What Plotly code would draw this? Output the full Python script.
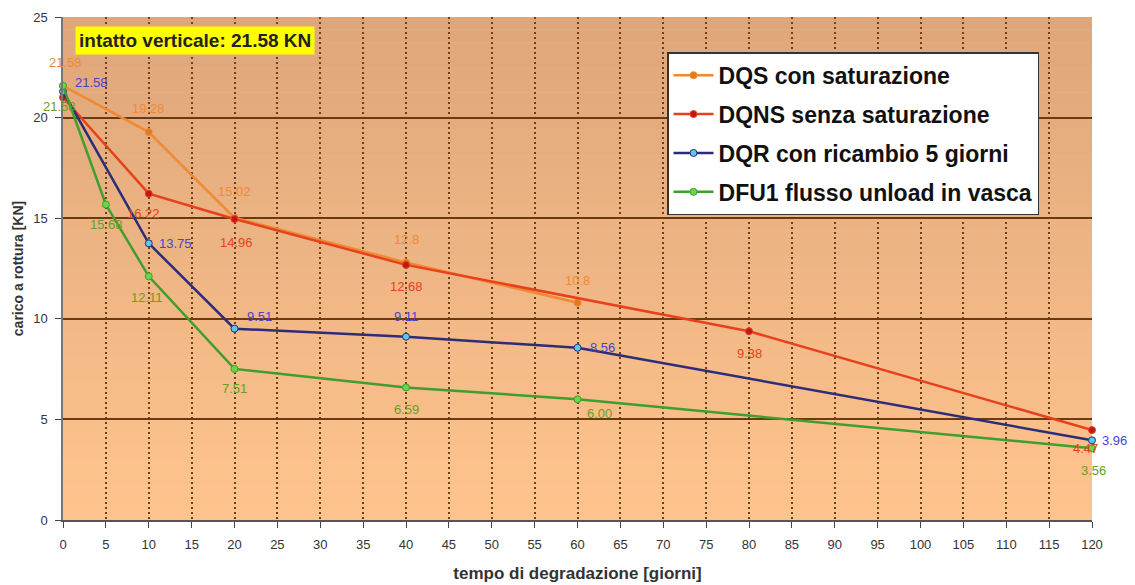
import plotly.graph_objects as go

# ---------------- data ----------------
dqs_x = [0, 10, 20, 40, 60]
dqs_y = [21.58, 19.28, 15.02, 12.8, 10.8]
dqs_lbl = ["21.58", "19.28", "15.02", "12.8", "10.8"]

dqns_x = [0, 10, 20, 40, 80, 120]
dqns_y = [21.0, 16.22, 14.96, 12.68, 9.38, 4.47]
dqns_lbl = ["", "16.22", "14.96", "12.68", "9.38", "4.47"]

dqr_x = [0, 10, 20, 40, 60, 120]
dqr_y = [21.3, 13.75, 9.51, 9.11, 8.56, 3.96]
dqr_lbl = ["21.58", "13.75", "9.51", "9.11", "8.56", "3.96"]

dfu_x = [0, 5, 10, 20, 40, 60, 120]
dfu_y = [21.58, 15.68, 12.11, 7.51, 6.59, 6.00, 3.56]
dfu_lbl = ["21.58", "15.68", "12.11", "7.51", "6.59", "6.00", "3.56"]

names = ["DQS con saturazione", "DQNS senza saturazione",
         "DQR con ricambio 5 giorni", "DFU1 flusso unload in vasca"]
x_ticks = list(range(0, 121, 5))
y_ticks = list(range(0, 26, 5))

# ---------------- styles ----------------
line_cols = ["#F08A32", "#E8401C", "#2C2C78", "#3E9E2E"]
mark_cols = ["#E07A22", "#C01818", "#5AC8E8", "#6CD64A"]
text_cols = ["#F08A32", "#E8401C", "#4444D0", "#6A9E1E"]

# label offsets in pixels (xshift, yshift, xanchor)
dqs_off = [(2, 23, "center"), (0, 24, "center"), (0, 26, "center"),
           (0, 23, "center"), (0, 22, "center")]
dqns_off = [(0, 0, "center"), (-5, -20, "center"), (2, -23, "center"),
            (0, -22, "center"), (0, -22, "center"), (-7, -18, "center")]
dqr_off = [(10, 9, "left"), (8, 0, "left"), (10, 12, "left"),
           (0, 20, "center"), (10, 0, "left"), (8, 0, "left")]
dfu_off = [(-4, -21, "center"), (1, -20, "center"), (-2, -21, "center"),
           (0, -20, "center"), (0, -22, "center"), (22, -14, "center"),
           (1, -22, "center")]

fig = go.Figure()

series = [
    (dqs_x, dqs_y, dqs_lbl, dqs_off),
    (dqns_x, dqns_y, dqns_lbl, dqns_off),
    (dqr_x, dqr_y, dqr_lbl, dqr_off),
    (dfu_x, dfu_y, dfu_lbl, dfu_off),
]

for i, (xs, ys, lb, off) in enumerate(series):
    fig.add_trace(go.Scatter(
        x=xs, y=ys, name=names[i], mode="lines+markers",
        line=dict(color=line_cols[i], width=2.5),
        marker=dict(color=mark_cols[i], size=7,
                    line=dict(color=line_cols[i], width=1)),
        legendgroup=str(i), cliponaxis=False,
    ))

annotations = []
for i, (xs, ys, lb, off) in enumerate(series):
    for xv, yv, t, (dx, dy, xa) in zip(xs, ys, lb, off):
        if not t:
            continue
        annotations.append(dict(
            x=xv, y=yv, xref="x", yref="y", text=t, showarrow=False,
            xshift=dx, yshift=dy, xanchor=xa,
            font=dict(family="Arial", size=13, color=text_cols[i]),
        ))

annotations.append(dict(
    x=0.0117, y=0.982, xref="paper", yref="paper", xanchor="left", yanchor="top",
    text="<b>intatto verticale: 21.58 KN</b>", showarrow=False,
    bgcolor="#FFFF00", borderpad=3,
    font=dict(family="Arial", size=19, color="#222222"),
))

# gradient background bands
shapes = []
n = 40
top = (0xDE, 0xA6, 0x7A)
bot = (0xFF, 0xC4, 0x8E)
for k in range(n):
    t = k / (n - 1)
    c = tuple(int(round(top[j] + (bot[j] - top[j]) * t)) for j in range(3))
    shapes.append(dict(
        type="rect", xref="x domain", yref="y domain",
        x0=0, x1=1, y0=1 - (k + 1) / n, y1=1 - k / n,
        fillcolor="rgb(%d,%d,%d)" % c, line=dict(width=0), layer="below",
    ))

fig.update_layout(
    width=1135, height=585,
    margin=dict(l=63, r=43, t=17, b=65, autoexpand=False),
    paper_bgcolor="white",
    plot_bgcolor="#F4B888",
    font=dict(family="Arial", color="#333333"),
    shapes=shapes,
    annotations=annotations,
    showlegend=True,
    legend=dict(
        x=0.587, y=0.93, xanchor="left", yanchor="top",
        bgcolor="white", bordercolor="#333333", borderwidth=1.5,
        font=dict(family="Arial", size=23, color="#111111", weight="bold"),
        tracegroupgap=6, itemwidth=40,
    ),
    xaxis=dict(
        range=[0, 120], tickvals=x_ticks, ticks="outside", ticklen=6,
        tickcolor="#444444", tickfont=dict(size=13, color="#333333"),
        ticklabelstandoff=6,
        showgrid=True, gridcolor="#6E4018", griddash="2px,3px", gridwidth=1.5,
        showline=True, linecolor="#555555", linewidth=1.5,
        zeroline=False,
        title=dict(text="<b>tempo di degradazione [giorni]</b>",
                   font=dict(size=17, color="#333333"), standoff=16),
    ),
    yaxis=dict(
        range=[0, 25], tickvals=y_ticks, ticks="outside", ticklen=6,
        tickcolor="#444444", tickfont=dict(size=13, color="#333344"),
        ticklabelstandoff=5,
        showgrid=True, gridcolor="#6A3A12", gridwidth=1.5,
        showline=True, linecolor="#777777", linewidth=1.5,
        zeroline=False,
        title=dict(text="<b>carico a rottura [KN]</b>",
                   font=dict(size=14, color="#333333"), standoff=6),
    ),
)

fig.write_html("out.html")
